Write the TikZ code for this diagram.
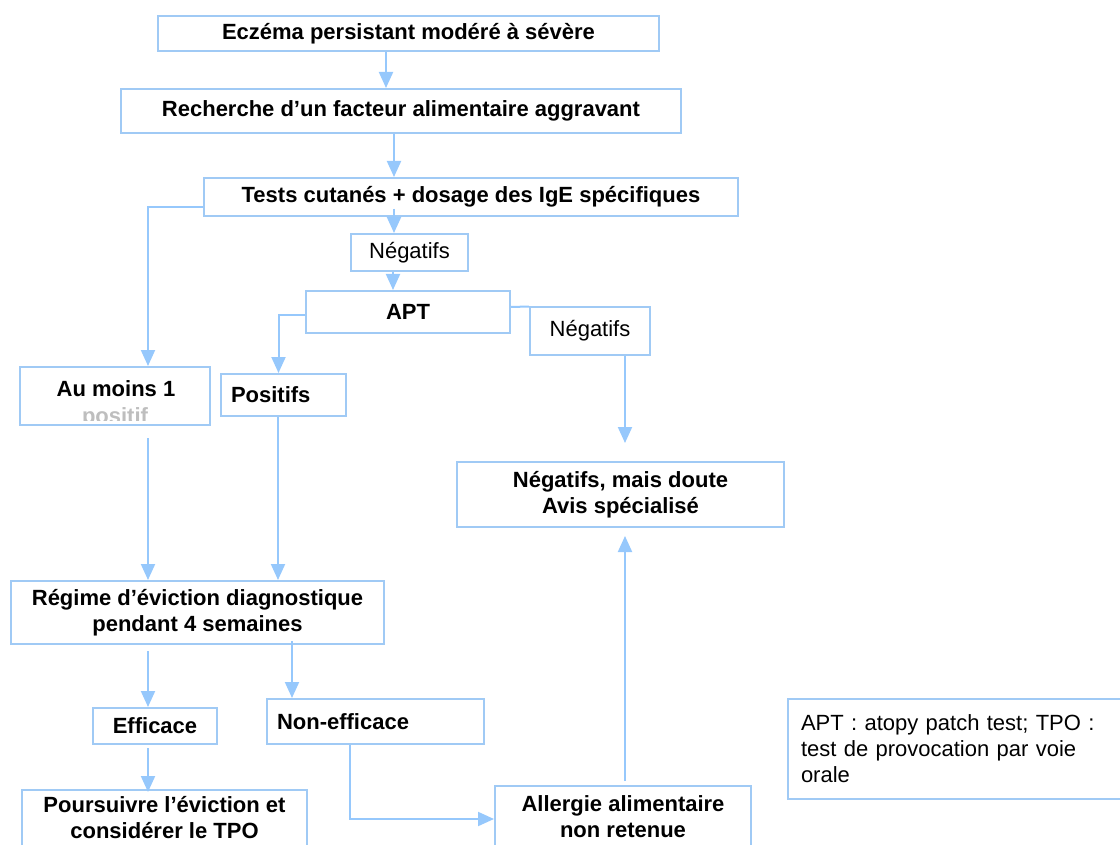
\documentclass[tikz,border=0pt]{standalone}
\usepackage{fontspec}
\setmainfont{Liberation Sans}
\usetikzlibrary{arrows.meta}
\definecolor{boxc}{RGB}{160,202,245}
\definecolor{arrc}{RGB}{150,200,252}
\definecolor{fadec}{RGB}{190,190,190}
\begin{document}
\begin{tikzpicture}[x=1pt,y=-1pt,
  box/.style={draw=boxc, line width=2pt, fill=white, inner sep=0pt, align=center,
    font=\fontsize{22}{26}\selectfont\bfseries},
  lbox/.style={box, align=left, inner xsep=10pt},
  rbox/.style={box, font=\fontsize{22}{26}\selectfont},
  txt/.style={inner sep=0pt, font=\fontsize{22}{26}\selectfont\bfseries},
  arr/.style={draw=arrc, line width=2pt, -{Triangle[width=14pt,length=16pt]}},
  ln/.style={draw=arrc, line width=2pt}]
\useasboundingbox (0,0) rectangle (1120,845);
\clip (0,0) rectangle (1120,845);

% boxes
\node[box, minimum width=501pt, minimum height=35pt] (ecz) at (408.5,33.5) {Eczéma persistant modéré à sévère};
\node[box, minimum width=560pt, minimum height=44pt] (rech) at (401,111) {Recherche d’un facteur alimentaire aggravant};
\node[box, minimum width=534pt, minimum height=38pt] (tests) at (471,197) {Tests cutanés + dosage des IgE spécifiques};
\node[rbox, minimum width=117pt, minimum height=37pt] (neg1) at (409.5,252.5) {Négatifs};
\node[box, minimum width=204pt, minimum height=42pt] (apt) at (408,312) {APT};
\node[rbox, minimum width=120pt, minimum height=47pt] (neg2) at (590,331) {Négatifs};
\node[box, minimum width=190pt, minimum height=58pt] (aumoins) at (115,396) {};
\node[txt, anchor=base] (am1) at (116,396) {Au moins 1};
\begin{scope}
  \clip (21,368) rectangle (209,420);
  \node[txt, anchor=base, text=fadec] (am2) at (115,423) {positif};
\end{scope}
\node[lbox, text width=105pt, minimum height=42pt] (posit) at (283.5,395) {Positifs};
\node[box, minimum width=327pt, minimum height=65pt] (doute) at (620.5,494.5) {Négatifs, mais doute\\Avis spécialisé};
\node[box, minimum width=373pt, minimum height=63pt] (regime) at (197.5,612.5) {Régime d’éviction diagnostique\\pendant 4 semaines};
\node[box, minimum width=124pt, minimum height=36pt] (eff) at (155,726) {Efficace};
\node[lbox, text width=197pt, minimum height=45pt] (noneff) at (375.5,721.5) {Non-efficace\\[3pt]};
\node[box, minimum width=285pt, minimum height=66pt, text depth=12pt] (pours) at (164.5,823) {Poursuivre l’éviction et\\considérer le TPO};
\node[box, minimum width=256pt, minimum height=62pt] (allerg) at (623,817) {Allergie alimentaire\\non retenue};
\node[rbox, align=left, anchor=north west, text width=314pt, inner xsep=13pt,
  minimum height=100pt] (note) at (787,698) {APT : atopy patch test; TPO :\\test de provocation par voie\\orale};

% connectors
\draw[arr] ([xshift=-22.5pt]ecz.south) -- ([xshift=-15pt]rech.north);
\draw[arr] ([xshift=-7pt]rech.south) -- ([xshift=-77pt]tests.north);
\draw[arr] ([xshift=-77pt,yshift=8pt]tests.south) -- ([xshift=-15.5pt]neg1.north);
\draw[arr] ([xshift=-16.5pt]neg1.south) -- ([xshift=-15pt]apt.north);
\draw[arr] ([yshift=-10pt]tests.west) -| ([xshift=33pt]aumoins.north);
\draw[arr] ([yshift=-3pt]apt.west) -| ([xshift=-5pt]posit.north);
\draw[ln] ([yshift=5pt]apt.east) -- (neg2.north west);
\coordinate (negend) at (625,443);
\draw[arr] ([xshift=35pt]neg2.south) -- (negend);
\draw[arr] ([xshift=33pt,yshift=-12pt]aumoins.south) -- ([xshift=-49.5pt]regime.north);
\draw[arr] ([xshift=-5.5pt]posit.south) -- ([xshift=80.5pt]regime.north);
\draw[arr] ([xshift=-49.5pt,yshift=-6pt]regime.south) -- ([xshift=-7pt]eff.north);
\draw[arr] ([xshift=94.5pt,yshift=4pt]regime.south) -- ([xshift=-83.5pt]noneff.north);
\draw[arr] ([xshift=-7pt,yshift=-3pt]eff.south) -- ([xshift=-16.5pt,yshift=-3pt]pours.north);
\draw[arr] ([xshift=-25.5pt]noneff.south) |- ([yshift=-2pt]allerg.west);
\draw[arr] ([xshift=2pt,yshift=4pt]allerg.north) -- ([xshift=4.5pt,yshift=-8pt]doute.south);
\end{tikzpicture}
\end{document}
